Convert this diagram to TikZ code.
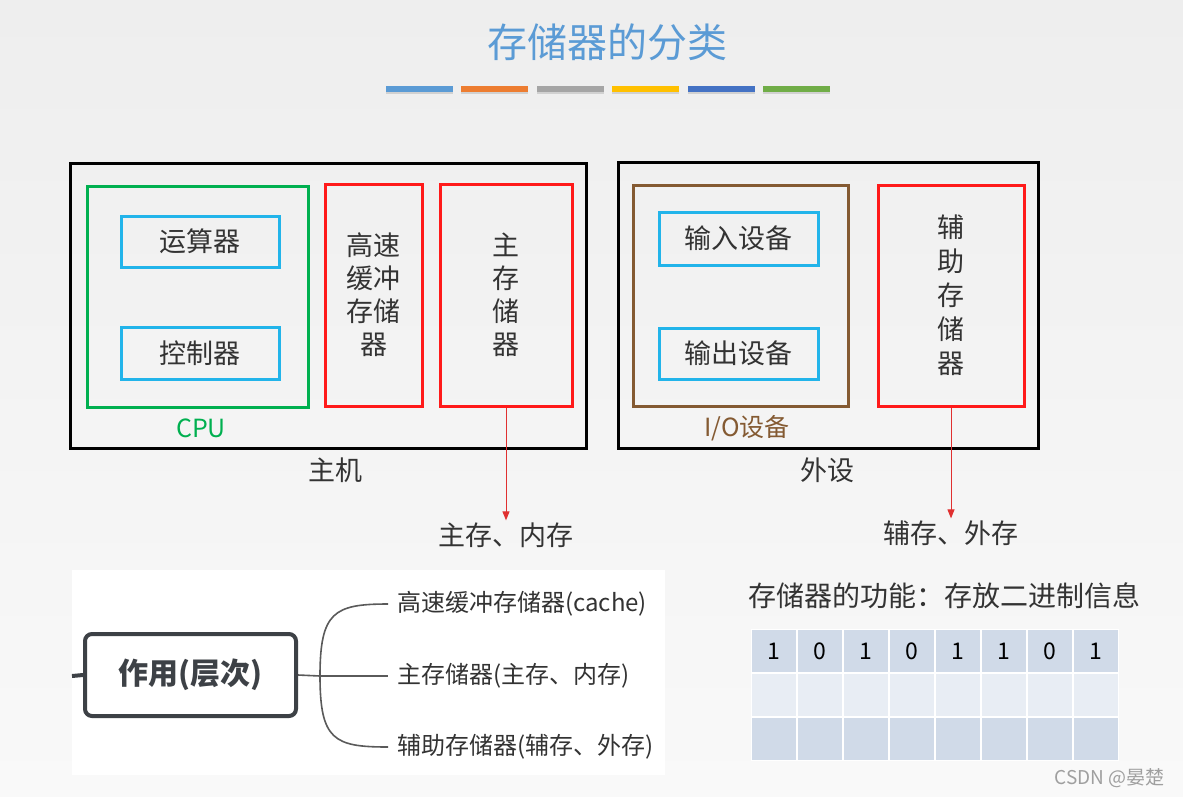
\documentclass[tikz,border=0pt]{standalone}
\usepackage{fontspec}
\setmainfont{Noto Sans CJK SC}
\usetikzlibrary{arrows.meta}
\definecolor{titleblue}{HTML}{5B9BD5}
\definecolor{barA}{HTML}{5B9BD5}
\definecolor{barB}{HTML}{ED7D31}
\definecolor{barC}{HTML}{A5A5A5}
\definecolor{barD}{HTML}{FFC000}
\definecolor{barE}{HTML}{4472C4}
\definecolor{barF}{HTML}{70AD47}
\definecolor{cpugreen}{HTML}{00B050}
\definecolor{cyanbox}{HTML}{22B4EA}
\definecolor{boxred}{HTML}{FF1A1A}
\definecolor{iobrown}{HTML}{845A32}
\definecolor{txt}{HTML}{333333}
\definecolor{arrowred}{HTML}{E03030}
\definecolor{mapgray}{HTML}{3D4146}
\definecolor{linegray}{HTML}{5A5A5A}
\definecolor{rowdark}{HTML}{D0DAE8}
\definecolor{rowlight}{HTML}{E8EDF4}
\definecolor{bgtop}{HTML}{EEEEEE}
\definecolor{bgbot}{HTML}{F9F9F9}
\newcommand\sizeTitle{\fontsize{40}{48}\selectfont}
\newcommand\sizeBox{\fontsize{27}{33}\selectfont}
\newcommand\sizeAux{\fontsize{27}{34}\selectfont}
\newcommand\sizeTag{\fontsize{25}{30}\selectfont}
\newcommand\sizeRole{\fontsize{30}{36}\selectfont}
\newcommand\sizeLeaf{\fontsize{24}{29}\selectfont}
\newcommand\sizeFunc{\fontsize{28}{34}\selectfont}
\newcommand\sizeCell{\fontsize{23}{27}\selectfont}
\newcommand\sizeMark{\fontsize{19}{23}\selectfont}
\begin{document}
\begin{tikzpicture}[x=1pt,y=-1pt,
  box/.style={draw=#1,line width=3pt,inner sep=0pt},
  lbl/.style={text=txt,font=\sizeBox,inner sep=2pt},
  tip/.style={draw=arrowred,line width=1pt,-{Triangle[length=9pt,width=7pt]}},
  branch/.style={draw=linegray,line width=1.6pt},
  leaf/.style={anchor=west,text=txt,font=\sizeLeaf,inner sep=0pt,inner xsep=9pt},
  cell/.style={minimum width=44pt,minimum height=42pt,inner sep=0pt,font=\sizeCell}]
  \useasboundingbox (0,0) rectangle (1183,796);
  \shade[top color=bgtop,bottom color=bgbot] (0,0) rectangle (1183,796);
  \fill[white] (72,570) rectangle (665,775);
  \fill[white] (751,629) rectangle (1119,761);
  \node[text=titleblue,font=\sizeTitle] (title) at (607,42) {存储器的分类};
  \foreach \c [count=\i from 0] in {barA,barB,barC,barD,barE,barF} {
    \fill[black!18] (386+75.4*\i,91) rectangle ++(67,3);
    \fill[\c] (386+75.4*\i,86) rectangle ++(67,6);
  }
  \node[box=black,minimum width=516pt,minimum height=285pt] (host) at (328,305.5) {};
  \node[box=cpugreen,minimum width=221pt,minimum height=221pt] (cpu) at (197.5,296.5) {};
  \node[box=cyanbox,minimum width=158pt,minimum height=51pt,lbl] (alu) at (200,241.5) {运算器};
  \node[box=cyanbox,minimum width=158pt,minimum height=52pt,lbl] (ctrl) at (200,353) {控制器};
  \node[box=boxred,minimum width=97pt,minimum height=222pt,lbl,align=center] (cache) at (373.5,295) {高速\\缓冲\\存储\\器};
  \node[box=boxred,minimum width=132pt,minimum height=222pt,lbl,align=center] (mainmem) at (506,295) {主\\存\\储\\器};
  \node[text=cpugreen,font=\sizeTag] (cpulbl) at (201,428) {CPU};
  \node[lbl] (hostlbl) at (335,470) {主机};
  \node[lbl] (mainlbl) at (506,535) {主存、内存};
  \draw[tip] (mainmem.south) -- (mainlbl.north);
  \node[box=black,minimum width=420pt,minimum height=286pt] (periph) at (828,305) {};
  \node[box=iobrown,minimum width=215pt,minimum height=221pt] (io) at (740.5,295.5) {};
  \node[box=cyanbox,minimum width=159pt,minimum height=53pt,lbl] (inp) at (738.5,238.5) {输入设备};
  \node[box=cyanbox,minimum width=159pt,minimum height=51pt,lbl] (outp) at (738.5,353.5) {输出设备};
  \node[box=boxred,minimum width=146pt,minimum height=221pt,lbl,font=\sizeAux,align=center] (aux) at (951,295.5) {辅\\助\\存\\储\\器};
  \node[text=iobrown,font=\sizeTag] (iolbl) at (747,428) {I/O设备};
  \node[lbl] (periphlbl) at (827,470) {外设};
  \node[lbl] (auxlbl) at (951,533) {辅存、外存};
  \draw[tip] (aux.south) -- (auxlbl.north);
  \node[draw=mapgray,line width=4pt,rounded corners=7pt,minimum width=211pt,minimum height=82pt,font=\sizeRole\bfseries,text=mapgray] (role) at (190.5,675) {作用(层次)};
  \coordinate (stub) at (72,676);
  \coordinate (fork) at (320,676);
  \draw[mapgray,line width=4pt] (stub) -- (role.west);
  \draw[branch] (role.east) -- (fork);
  \node[leaf] (leafA) at (388,604) {高速缓冲存储器(cache)};
  \node[leaf] (leafB) at (388,676) {主存储器(主存、内存)};
  \node[leaf] (leafC) at (388,747) {辅助存储器(辅存、外存)};
  \draw[branch] (fork) .. controls (320,612) and (334,604) .. (leafA.west);
  \draw[branch] (fork) -- (leafB.west);
  \draw[branch] (fork) .. controls (320,740) and (334,747) .. (leafC.west);
  \node[lbl,font=\sizeFunc,anchor=west] (func) at (746,596) {存储器的功能：存放二进制信息};
  \foreach \b [count=\c] in {1,0,1,0,1,1,0,1}
    \node[cell,fill=rowdark] (bit-\c) at (728+46*\c,651) {\b};
  \foreach \r/\tone in {2/rowlight,3/rowdark}
    \foreach \c in {1,...,8}
      \node[cell,fill=\tone] (cell-\r-\c) at (728+46*\c,607+44*\r) {};
  \node[text=gray!75,font=\sizeMark,anchor=east] (mark) at (1168,778) {CSDN @晏楚};
\end{tikzpicture}
\end{document}
